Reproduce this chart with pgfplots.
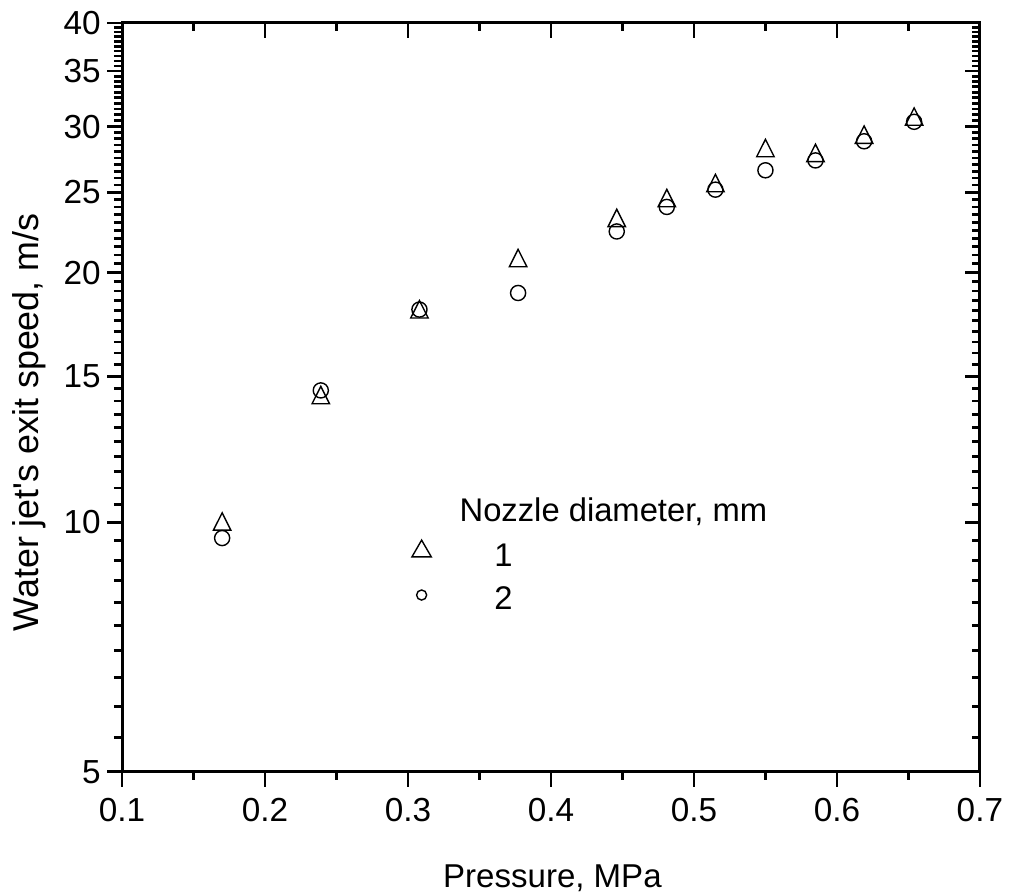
\documentclass[border=0pt]{standalone}
\usepackage{pgfplots}
\pgfplotsset{compat=1.18}
\usepackage{fontspec}
\setmainfont{Liberation Sans}
\pgfplotsset{
  /pgfplots/myaxstyle/.style={
    scale only axis, width=306.4pt, height=267.5pt,
    xmin=0.1, xmax=0.7, ymin=5, ymax=40,
    xtick={0.1,0.2,0.3,0.4,0.5,0.6,0.7},
    minor xtick={0.15,0.25,0.35,0.45,0.55,0.65},
    ytick={5,10,15,20,25,30,35,40},
    minor ytick={5.5,6,6.5,7,7.5,8,8.5,9,9.5,
      10.5,11,11.5,12,12.5,13,13.5,14,14.5,
      15.5,16,16.5,17,17.5,18,18.5,19,19.5,
      20.5,21,21.5,22,22.5,23,23.5,24,24.5,
      25.5,26,26.5,27,27.5,28,28.5,29,29.5,
      30.5,31,31.5,32,32.5,33,33.5,34,34.5,
      35.5,36,36.5,37,37.5,38,38.5,39,39.5},
    axis line style={line width=1.05pt},
    major tick length=5.3pt, minor tick length=2.9pt,
    every tick/.style={line width=1pt, black},
    /pgf/number format/assume math mode=true,
    ticklabel style={font=\fontsize{11.9}{14}\selectfont},
  },
  /pgfplots/mylegimg/.style={
    legend image code/.code={\path[draw=none,fill=none] (0pt,-4pt) rectangle (30pt,4pt); \draw[##1] plot coordinates {(4pt,2pt)};}
  }
}
\begin{document}
\begin{tikzpicture}
\begin{axis}[ymode=log, myaxstyle, tick align=inside, xtick pos=right, ytick pos=right,
  xticklabels={}, yticklabels={}]
\end{axis}
\begin{axis}[ymode=log, myaxstyle, name=ax, tick align=outside, xtick pos=left, ytick pos=left,
  xticklabels={0.1,0.2,0.3,0.4,0.5,0.6,0.7},
  yticklabels={5,10,15,20,25,30,35,40},
  xticklabel style={yshift=-0.7pt},
  yticklabel style={xshift=1.2pt},
  xlabel={Pressure, MPa},
  ylabel={Water jet\textquotesingle s exit speed, m/s},
  xlabel style={font=\fontsize{11.8}{14}\selectfont, at={(axis description cs:0.5017,-0.1549)}, anchor=base, inner sep=0pt},
  ylabel style={font=\fontsize{12.8}{15}\selectfont, at={(axis description cs:-0.0979,0.4666)}, anchor=base, inner sep=0pt},
  legend style={draw=none, fill=none, at={(axis cs:0.3013,9.53)}, anchor=north west,
    inner sep=0pt, row sep=6pt, nodes={inner sep=0pt}, font=\fontsize{11.7}{14}\selectfont},
  legend cell align=left,
  mylegimg,
]
\addplot[only marks, mark=triangle, mark size=3.6pt, mark options={yscale=1.15, line width=0.5pt, black}, forget plot] coordinates {
(0.170,9.94) (0.239,14.12) (0.308,17.92) (0.377,20.66) (0.446,23.09) (0.481,24.4)
(0.515,25.44) (0.550,28.04) (0.585,27.66) (0.619,29.1) (0.654,30.6)};
\addplot[only marks, mark=o, mark size=2.7pt, mark options={line width=0.5pt, black}, forget plot] coordinates {
(0.170,9.57) (0.239,14.42) (0.308,18.05) (0.377,18.9) (0.446,22.42) (0.481,24.0)
(0.515,25.18) (0.550,26.57) (0.585,27.31) (0.619,28.8) (0.654,30.4)};
\addlegendimage{only marks, mark=triangle, mark size=4pt, mark options={line width=0.5pt, black}}
\addlegendentry{1}
\addlegendimage{only marks, mark=o, mark size=1.8pt, mark options={line width=0.5pt, black}}
\addlegendentry{2}
\node[anchor=base west, inner sep=0pt, font=\fontsize{11.7}{14}\selectfont] at (axis cs:0.3357,10.02) {Nozzle diameter, mm};
\end{axis}
\pgfresetboundingbox
\path[use as bounding box] ([xshift=-43.6pt,yshift=-42.9pt]ax.south west) rectangle ([xshift=10.4pt,yshift=8.2pt]ax.north east);
\end{tikzpicture}
\end{document}
